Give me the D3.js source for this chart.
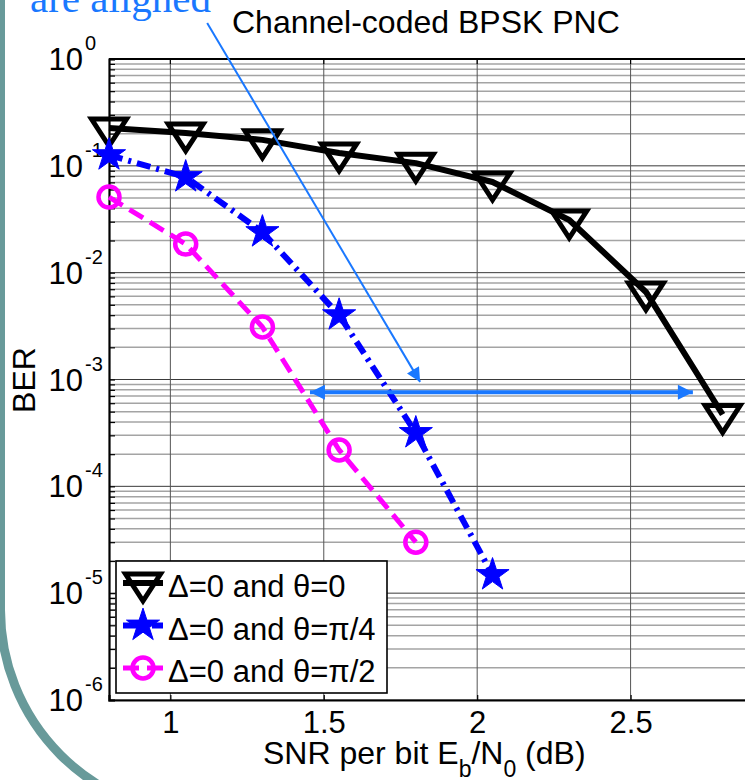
<!DOCTYPE html>
<html>
<head>
<meta charset="utf-8">
<script src="https://cdn.jsdelivr.net/npm/d3@7"></script>
<style>
  html, body { margin: 0; padding: 0; background: #fff; overflow: hidden; }
  svg { font-family: "Liberation Sans", Arial, sans-serif; }
</style>
</head>
<body>
<svg id="chart" width="745" height="780"></svg>
<script>
// ---- data ----
const snr = [0.8, 1.05, 1.3, 1.55, 1.8, 2.05, 2.3, 2.55, 2.8];
const berTheta0   = [0.226, 0.203, 0.175, 0.132, 0.106, 0.0706, 0.0311, 0.0066, 0.00047];
const berThetaPi4 = [0.126, 0.0786, 0.024, 0.0040, 0.000316, 0.0000148];
const berThetaPi2 = [0.051, 0.0185, 0.0031, 0.000219, 0.000030];
const seriesNames = ["Δ=0 and θ=0", "Δ=0 and θ=π/4", "Δ=0 and θ=π/2"];
const xTicks = [1, 1.5, 2, 2.5];
const yDecades = [0, -1, -2, -3, -4, -5, -6];
const titleText = "Channel-coded BPSK PNC";
const noteText = "are aligned";
// annotation arrows, in data units (SNR in dB, BER)
const slantArrow = [[1.12, 2.17], [1.814, 9.5e-4]];
const gapArrow = [[1.455, 7.6e-4], [2.703, 7.6e-4]];

// ---- layout ----
const SANS = "Liberation Sans, Arial, sans-serif";
const svg = d3.select("#chart");
const x = d3.scaleLinear().domain([0.8, 3.0]).range([109, 784]);
const y = d3.scaleLog().domain([1e-6, 1]).range([700, 59]);
const accent = "#1a78ff";

// slide frame: rounded corner on the left
svg.append("path")
  .attr("d", "M 0.5 -10 V 610 A 205 205 0 0 0 205.5 815")
  .attr("fill", "none").attr("stroke", "#689a9a").attr("stroke-width", 9);

// ---- grid ----
const grid = svg.append("g");
const minorVals = [];
yDecades.slice(1).forEach(e => { for (let m = 2; m <= 9; m++) minorVals.push(m * Math.pow(10, e)); });
grid.selectAll("line.minor").data(minorVals).join("line")
  .attr("class", "minor")
  .attr("x1", x(0.8)).attr("x2", x(3.0))
  .attr("y1", d => y(d)).attr("y2", d => y(d))
  .attr("stroke", "#a4a4a4").attr("stroke-width", 1.5);
grid.selectAll("line.major").data(yDecades.map(e => Math.pow(10, e))).join("line")
  .attr("class", "major")
  .attr("x1", x(0.8)).attr("x2", x(3.0))
  .attr("y1", d => y(d)).attr("y2", d => y(d))
  .attr("stroke", "#3a3a3a").attr("stroke-width", 1);
grid.selectAll("line.vx").data(xTicks).join("line")
  .attr("class", "vx")
  .attr("x1", d => x(d)).attr("x2", d => x(d))
  .attr("y1", y(1)).attr("y2", y(1e-6))
  .attr("stroke", "#555").attr("stroke-width", 1);

// ---- axes ----
const xAxisG = svg.append("g").attr("transform", `translate(0,${y(1e-6)})`)
  .call(d3.axisBottom(x).tickValues(xTicks).tickSize(-5).tickFormat(d3.format("")));
xAxisG.attr("font-family", SANS);
xAxisG.select(".domain").attr("stroke-width", 2.2);
xAxisG.selectAll(".tick line").attr("stroke-width", 1.2);
xAxisG.selectAll(".tick text").attr("font-size", 31).attr("fill", "#000")
  .attr("dy", 0).attr("y", 33);

const yAxisG = svg.append("g").attr("transform", `translate(${x(0.8)},0)`)
  .call(d3.axisLeft(y).tickValues(minorVals.concat(yDecades.map(e => Math.pow(10, e))))
    .tickSize(-6).tickFormat(""));
yAxisG.select(".domain").attr("stroke-width", 2.2);
yAxisG.selectAll(".tick line").attr("stroke-width", 1.2);

// top edge of the box
svg.append("line").attr("x1", x(0.8)).attr("x2", x(3.0)).attr("y1", y(1)).attr("y2", y(1))
  .attr("stroke", "#000").attr("stroke-width", 2);
svg.append("g").selectAll("line").data(xTicks).join("line")
  .attr("x1", d => x(d)).attr("x2", d => x(d)).attr("y1", y(1)).attr("y2", y(1) + 5)
  .attr("stroke", "#000").attr("stroke-width", 1.2);

// y tick labels 10^k
const yLab = svg.append("g").attr("fill", "#000");
yDecades.forEach(e => {
  const yy = y(Math.pow(10, e));
  yLab.append("text").attr("x", 83).attr("y", yy + 11)
    .attr("text-anchor", "end").attr("font-size", 31).text("10");
  yLab.append("text").attr("x", 85).attr("y", yy - 9)
    .attr("font-size", 20).text(e === 0 ? "0" : "-" + (-e));
});

// axis titles
svg.append("text").attr("transform", "translate(35,380) rotate(-90)")
  .attr("text-anchor", "middle").attr("font-size", 32).text("BER");

const xl = svg.append("text").attr("x", 263).attr("y", 764).attr("font-size", 32);
xl.append("tspan").text("SNR per bit E");
xl.append("tspan").attr("font-size", 23).attr("dy", 13).text("b");
xl.append("tspan").attr("dy", -13).text("/N");
xl.append("tspan").attr("font-size", 23).attr("dy", 13).text("0");
xl.append("tspan").attr("dy", -13).text(" (dB)");

svg.append("text").attr("x", 232).attr("y", 33).attr("font-size", 32).text(titleText);

// ---- series ----
const triPath = "M -17.5 -9 L 17.5 -9 L 0 18 Z";
const starPath = d3.symbol(d3.symbolStar, 340)();

const series = [
  { name: seriesNames[0], vals: berTheta0, color: "#000", width: 6, dash: null, marker: "tri" },
  { name: seriesNames[1], vals: berThetaPi4, color: "#0000ff", width: 6, dash: "14,6,3,6", marker: "star" },
  { name: seriesNames[2], vals: berThetaPi2, color: "#ff00ff", width: 5, dash: "16,8", marker: "circle" }
];

function drawMarker(g, kind, color) {
  if (kind === "tri") {
    g.append("path").attr("d", triPath).attr("fill", "none")
      .attr("stroke", color).attr("stroke-width", 5).attr("stroke-linejoin", "miter");
  } else if (kind === "star") {
    g.append("path").attr("d", starPath).attr("fill", color)
      .attr("stroke", color).attr("stroke-width", 1);
  } else {
    g.append("circle").attr("r", 10.5).attr("fill", "none")
      .attr("stroke", color).attr("stroke-width", 4.5);
  }
}

const line = d3.line().x(d => x(d[0])).y(d => y(d[1]));
series.forEach(s => {
  const pts = s.vals.map((v, i) => [snr[i], v]);
  const g = svg.append("g");
  g.append("path").datum(pts).attr("d", line)
    .attr("fill", "none").attr("stroke", s.color).attr("stroke-width", s.width)
    .attr("stroke-dasharray", s.dash).attr("stroke-linejoin", "round");
  pts.forEach(p => {
    const mg = g.append("g").attr("transform", `translate(${x(p[0])},${y(p[1])})`);
    drawMarker(mg, s.marker, s.color);
  });
});

// ---- legend ----
const leg = svg.append("g");
leg.append("rect").attr("x", 116).attr("y", 561).attr("width", 271).attr("height", 132)
  .attr("fill", "#fff").attr("stroke", "#000").attr("stroke-width", 1.6);
series.forEach((s, i) => {
  const base = 597 + i * 42.5;
  const ly = base - 14;
  leg.append("line").attr("x1", 123).attr("x2", 163).attr("y1", ly).attr("y2", ly)
    .attr("stroke", s.color).attr("stroke-width", s.width).attr("stroke-dasharray", s.dash);
  drawMarker(leg.append("g").attr("transform", `translate(143,${ly})`), s.marker, s.color);
  leg.append("text").attr("x", 168).attr("y", base).attr("font-size", 31).text(s.name);
});

// ---- annotations ----
const defs = svg.append("defs");
defs.append("marker").attr("id", "headSmall").attr("viewBox", "0 0 10 10")
  .attr("refX", 10).attr("refY", 5).attr("markerUnits", "userSpaceOnUse")
  .attr("markerWidth", 15).attr("markerHeight", 14).attr("orient", "auto")
  .append("path").attr("d", "M0,0 L10,5 L0,10 z").attr("fill", accent);
defs.append("marker").attr("id", "headBig").attr("viewBox", "0 0 10 10")
  .attr("refX", 10).attr("refY", 5).attr("markerUnits", "userSpaceOnUse")
  .attr("markerWidth", 16).attr("markerHeight", 15).attr("orient", "auto-start-reverse")
  .append("path").attr("d", "M0,0 L10,5 L0,10 z").attr("fill", accent);

svg.append("line")
  .attr("x1", x(slantArrow[0][0])).attr("y1", y(slantArrow[0][1]))
  .attr("x2", x(slantArrow[1][0])).attr("y2", y(slantArrow[1][1]))
  .attr("stroke", accent).attr("stroke-width", 2).attr("marker-end", "url(#headSmall)");
svg.append("line")
  .attr("x1", x(gapArrow[0][0])).attr("y1", y(gapArrow[0][1]))
  .attr("x2", x(gapArrow[1][0])).attr("y2", y(gapArrow[1][1]))
  .attr("stroke", accent).attr("stroke-width", 4)
  .attr("marker-start", "url(#headBig)").attr("marker-end", "url(#headBig)");

svg.append("text").attr("x", 30).attr("y", 12)
  .attr("font-family", "Liberation Serif, 'Times New Roman', serif")
  .attr("font-size", 41).attr("fill", accent).text(noteText);
</script>
</body>
</html>
